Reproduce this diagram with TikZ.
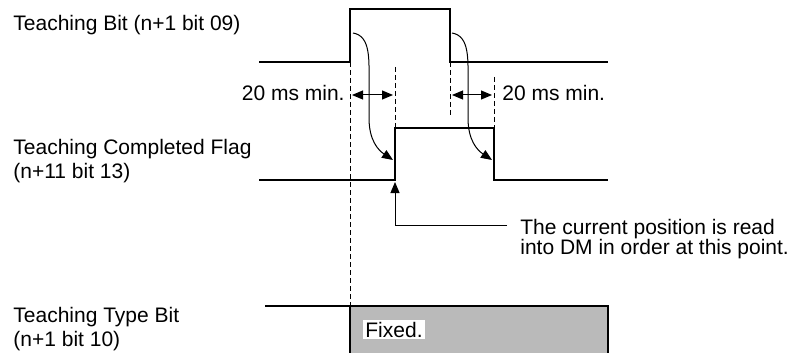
\documentclass[tikz,border=0pt]{standalone}
\usepackage{fontspec}
\setmainfont{Liberation Sans}
\usetikzlibrary{arrows.meta}

\tikzset{
  signal/.style={line width=1pt},
  guide/.style={line width=0.5pt, dash pattern=on 2.5pt off 1.5pt},
  delay/.style={line width=0.5pt, -{Triangle[length=5.5pt,width=4.5pt]}},
  gap/.style={line width=0.5pt, {Triangle[length=5.5pt,width=4.5pt]}-{Triangle[length=5.5pt,width=4.5pt]}},
  label/.style={font=\fontsize{10.5}{12}\selectfont, inner sep=0pt, align=left},
  note/.style={font=\fontsize{10.5}{10}\selectfont, inner sep=0pt, align=left},
  fixedarea/.style={fill=black!27},
}

\begin{document}
\begin{tikzpicture}[x=0.5pt, y=-0.5pt]
  \useasboundingbox (0,0) rectangle (792,353);

  \node[label, anchor=north west] (bitlabel) at (13,15) {Teaching Bit (n+1 bit 09)};
  \node[label, anchor=north west] (flaglabel) at (13,139) {Teaching Completed Flag\\(n+11 bit 13)};
  \node[label, anchor=north west] (typelabel) at (13,307) {Teaching Type Bit\\(n+1 bit 10)};

  % teaching bit
  \coordinate (tb0) at (259,62);
  \coordinate (tb1) at (350,62);
  \coordinate (tb2) at (350,9);
  \coordinate (tb3) at (450,9);
  \coordinate (tb4) at (450,62);
  \coordinate (tb5) at (608,62);
  \draw[signal] (tb0) -- (tb1) -- (tb2) -- (tb3) -- (tb4) -- (tb5);

  % completed flag
  \coordinate (fl0) at (259,180);
  \coordinate (fl1) at (395,180);
  \coordinate (fl2) at (395,128);
  \coordinate (fl3) at (494,128);
  \coordinate (fl4) at (494,180);
  \coordinate (fl5) at (608,180);
  \draw[signal] (fl0) -- (fl1) -- (fl2) -- (fl3) -- (fl4) -- (fl5);

  % type bit
  \coordinate (tt0) at (265,306);
  \coordinate (tt1) at (350,306);
  \coordinate (tt2) at (608,306);
  \coordinate (tt3) at (608,353);
  \coordinate (tt4) at (350,353);
  \fill[fixedarea] (tt1) rectangle (tt3);
  \draw[signal] (tt0) -- (tt1) -- (tt2) -- (tt3);
  \draw[signal] (tt1) -- (tt4);
  \node[font=\fontsize{10.5}{12}\selectfont, fill=white, inner sep=1pt, anchor=base west] (fixed) at (363,337) {Fixed.};

  % guides
  \coordinate (g2) at (395,67);
  \coordinate (g3) at (450,117);
  \coordinate (g4) at (494,77);
  \draw[guide] (tb1) -- (tt1);
  \draw[guide] (g2) -- (fl2);
  \draw[guide] (tb4) -- (g3);
  \draw[guide] (g4) -- (fl3);

  \coordinate (w1a) at (352,95);
  \coordinate (w1b) at (393,95);
  \coordinate (w2a) at (452,95);
  \coordinate (w2b) at (492,95);
  \draw[gap] (w1a) -- (w1b);
  \draw[gap] (w2a) -- (w2b);
  \node[label, anchor=base east] (minleft) at (345,101) {20 ms min.};
  \node[label, anchor=base west] (minright) at (502,101) {20 ms min.};

  \coordinate (c1) at (353,33);
  \coordinate (c1e) at (393,160);
  \coordinate (c2) at (452,33);
  \coordinate (c2e) at (492,160);
  \draw[delay] (c1) .. controls (371,36) and (369,60) .. (369,85) -- (369,118)
    .. controls (369,140) and (378,150) .. (c1e);
  \draw[delay] (c2) .. controls (470,36) and (468,60) .. (468,85) -- (468,118)
    .. controls (468,140) and (477,150) .. (c2e);

  \node[note, anchor=north west] (readnote) at (520,219) {The current position is read\\into DM in order at this point.};
  \coordinate (readend) at ([shift={(-13,6)}]readnote.north west);
  \draw[delay, shorten >=1pt] (readend) -| (fl1);
\end{tikzpicture}
\end{document}
